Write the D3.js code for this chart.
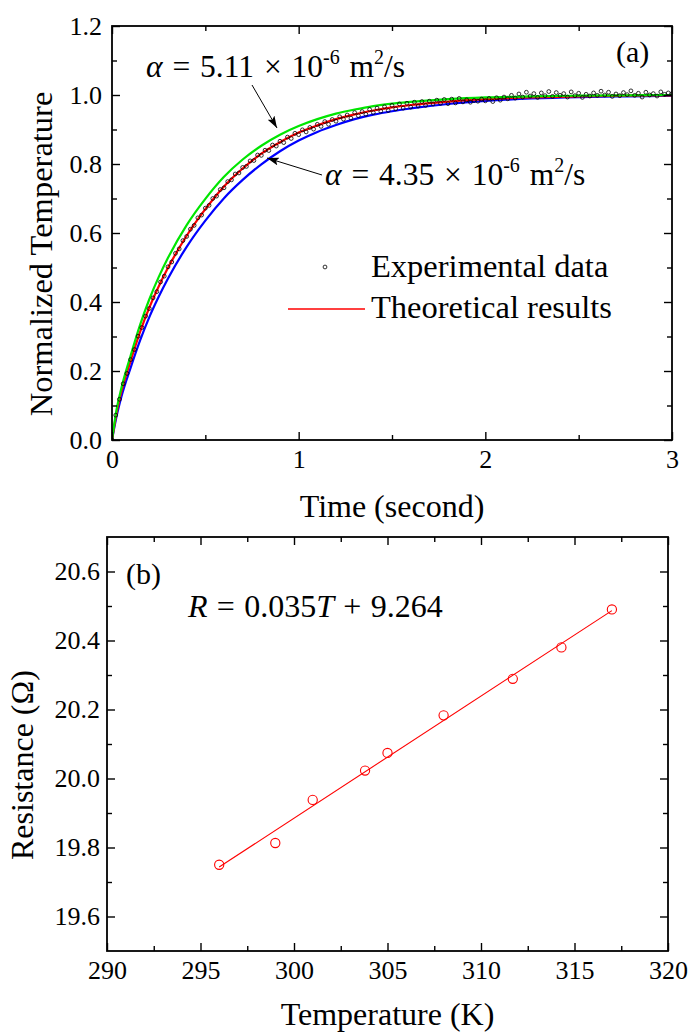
<!DOCTYPE html>
<html><head><meta charset="utf-8">
<script src="https://cdn.jsdelivr.net/npm/d3@7"></script>
<style>
html,body{margin:0;padding:0;background:#fff;}
svg{display:block;font-family:"Liberation Serif","Times New Roman",serif;}
</style></head><body>
<svg id="c" width="689" height="1034"></svg>
<script>
// ---------- Panel (a) data ----------
const expTime = [0.00,0.02,0.04,0.06,0.08,0.10,0.12,0.14,0.16,0.18,0.20,0.22,0.24,0.26,0.28,0.30,0.32,0.34,0.36,0.38,0.40,0.42,0.44,0.46,0.48,0.50,0.52,0.54,0.56,0.58,0.60,0.62,0.64,0.66,0.68,0.70,0.72,0.74,0.76,0.78,0.80,0.82,0.84,0.86,0.88,0.90,0.92,0.94,0.96,0.98,1.00,1.02,1.04,1.06,1.08,1.10,1.12,1.14,1.16,1.18,1.20,1.22,1.24,1.26,1.28,1.30,1.32,1.34,1.36,1.38,1.40,1.42,1.44,1.46,1.48,1.50,1.52,1.54,1.56,1.58,1.60,1.62,1.64,1.66,1.68,1.70,1.72,1.74,1.76,1.78,1.80,1.82,1.84,1.86,1.88,1.90,1.92,1.94,1.96,1.98,2.00,2.02,2.04,2.06,2.08,2.10,2.12,2.14,2.16,2.18,2.20,2.22,2.24,2.26,2.28,2.30,2.32,2.34,2.36,2.38,2.40,2.42,2.44,2.46,2.48,2.50,2.52,2.54,2.56,2.58,2.60,2.62,2.64,2.66,2.68,2.70,2.72,2.74,2.76,2.78,2.80,2.82,2.84,2.86,2.88,2.90,2.92,2.94,2.96,2.98,3.00];
const expTemp = [0.000,0.072,0.118,0.163,0.193,0.233,0.262,0.301,0.326,0.359,0.381,0.412,0.430,0.458,0.475,0.502,0.516,0.541,0.554,0.578,0.590,0.611,0.622,0.644,0.652,0.672,0.680,0.700,0.707,0.726,0.731,0.749,0.754,0.771,0.774,0.790,0.793,0.809,0.810,0.826,0.825,0.840,0.839,0.855,0.852,0.866,0.862,0.878,0.874,0.889,0.885,0.899,0.893,0.906,0.901,0.915,0.909,0.923,0.915,0.929,0.924,0.937,0.930,0.942,0.933,0.949,0.940,0.952,0.944,0.958,0.949,0.962,0.953,0.966,0.955,0.970,0.960,0.974,0.962,0.976,0.965,0.979,0.968,0.981,0.970,0.982,0.974,0.985,0.976,0.987,0.975,0.988,0.977,0.990,0.980,0.986,0.979,0.984,0.982,0.988,0.983,0.990,0.981,0.992,0.985,0.994,0.989,0.999,0.991,1.003,0.994,1.008,0.997,1.004,0.993,1.006,0.998,1.010,0.996,1.007,0.999,1.004,0.994,1.009,0.998,1.005,0.993,1.002,0.997,1.006,0.999,1.011,1.000,1.008,0.996,1.003,0.998,1.007,1.001,1.012,0.999,1.005,0.994,1.008,1.000,1.004,0.997,1.009,1.002,1.006,1.004];

const curveTime = [0,0.025,0.05,0.1,0.15,0.2,0.25,0.3,0.4,0.5,0.6,0.7,0.8,0.9,1.0,1.1,1.2,1.3,1.4,1.5,1.6,1.8,2.0,2.25,2.5,2.75,3.0];
const fitRed   = [0,0.08,0.14,0.23,0.313,0.384,0.445,0.499,0.592,0.669,0.735,0.787,0.830,0.863,0.891,0.912,0.930,0.944,0.955,0.964,0.971,0.981,0.988,0.993,0.996,0.998,0.999];
const fitGreen = [0,0.09,0.15,0.245,0.333,0.408,0.472,0.528,0.623,0.699,0.763,0.813,0.853,0.885,0.910,0.930,0.946,0.958,0.968,0.975,0.980,0.988,0.993,0.996,0.998,0.999,1.0];
const fitBlue  = [0,0.07,0.125,0.21,0.288,0.356,0.415,0.468,0.560,0.636,0.701,0.754,0.799,0.837,0.868,0.893,0.913,0.930,0.943,0.953,0.961,0.974,0.983,0.990,0.994,0.996,0.998];

const xTicksA = [0,1,2,3];
const yTicksA = [0.0,0.2,0.4,0.6,0.8,1.0,1.2];
const alphaLabels = ["5.11","4.35"];
const legendLabels = ["Experimental data","Theoretical results"];

// ---------- Panel (b) data ----------
const tempK = [296.0,299.0,301.0,303.8,305.0,308.0,311.7,314.3,317.0];
const resistance = [19.750,19.813,19.938,20.023,20.074,20.183,20.289,20.380,20.490];
const xTicksB = [290,295,300,305,310,315,320];
const yTicksB = [19.6,19.8,20.0,20.2,20.4,20.6];
const yMinorB = [19.7,19.9,20.1,20.3,20.5];

// ---------- drawing ----------
const svg = d3.select("#c");
const defs = svg.append("defs");
defs.append("marker").attr("id","arr").attr("viewBox","0 0 12 8")
  .attr("refX",12).attr("refY",4).attr("markerWidth",12).attr("markerHeight",8)
  .attr("markerUnits","userSpaceOnUse").attr("orient","auto")
  .append("path").attr("d","M0,0 L12,4 L0,8 L2.5,4 Z").attr("fill","#000");

function styleAxis(g, fs){
  g.select(".domain").remove();
  g.selectAll(".tick line").attr("stroke","#000").attr("stroke-width",1.4);
  g.selectAll(".tick text").attr("fill","#000").attr("font-size",fs)
   .attr("font-family","'Liberation Serif', 'Times New Roman', serif");
}
function drawAxes(x, y, box, xMaj, xMin, yMaj, yMin, xFmt, yFmt, xPad, yPad){
  const fs = 26;
  const mk = (gen, tr, vals, size, fmt, pad) => {
    const a = gen.tickValues(vals).tickSize(size).tickPadding(pad||0).tickFormat(fmt||"");
    const g = svg.append("g").attr("transform",tr).call(a);
    styleAxis(g, fs);
    return g;
  };
  mk(d3.axisBottom(x), `translate(0,${box.b})`, xMaj, -8, xFmt, xPad);
  mk(d3.axisBottom(x), `translate(0,${box.b})`, xMin, -5);
  mk(d3.axisTop(x), `translate(0,${box.t})`, xMaj, -8);
  mk(d3.axisTop(x), `translate(0,${box.t})`, xMin, -5);
  mk(d3.axisLeft(y), `translate(${box.l},0)`, yMaj, -8, yFmt, yPad);
  mk(d3.axisLeft(y), `translate(${box.l},0)`, yMin, -5);
  mk(d3.axisRight(y), `translate(${box.r},0)`, yMaj, -8);
  mk(d3.axisRight(y), `translate(${box.r},0)`, yMin, -5);
  svg.append("rect").attr("x",box.l).attr("y",box.t)
    .attr("width",box.r-box.l).attr("height",box.b-box.t)
    .attr("fill","none").attr("stroke","#000").attr("stroke-width",1.8);
}
function minorOf(major, step){
  const out=[];
  for(let i=0;i<major.length-1;i++) out.push(+(major[i]+step).toFixed(4));
  return out;
}

// ===== Panel (a) =====
const A = {l:112, r:672, t:26, b:440};
const xA = d3.scaleLinear().domain([0,3]).range([A.l,A.r]);
const yA = d3.scaleLinear().domain([0,1.2]).range([A.b,A.t]);

const lineA = d3.line().x(d=>xA(d[0])).y(d=>yA(d[1])).curve(d3.curveMonotoneX);
defs.append("clipPath").attr("id","clipA").append("rect")
  .attr("x",A.l).attr("y",A.t).attr("width",A.r-A.l).attr("height",A.b-A.t);
const gA = svg.append("g").attr("clip-path","url(#clipA)");
[[fitBlue,"#0000ff"],[fitRed,"#ff0000"],[fitGreen,"#00e600"]].forEach(([vals,col])=>{
  gA.append("path").datum(curveTime.map((t,i)=>[t,vals[i]]))
    .attr("d",lineA).attr("fill","none").attr("stroke",col).attr("stroke-width",2.2);
});
gA.selectAll("circle.exp").data(expTime.map((t,i)=>[t,expTemp[i]])).enter()
  .append("circle").attr("class","exp")
  .attr("cx",d=>xA(d[0])).attr("cy",d=>yA(d[1])).attr("r",1.9)
  .attr("fill","none").attr("stroke","#000").attr("stroke-width",0.8);

drawAxes(xA, yA, A, xTicksA, minorOf(xTicksA,0.5), yTicksA, minorOf(yTicksA,0.1),
  d3.format("d"), d3.format(".1f"), 9.5, 10);

svg.append("text").attr("x",(A.l+A.r)/2).attr("y",517).attr("text-anchor","middle")
  .attr("font-size",32).text("Time (second)");
svg.append("text").attr("transform",`translate(52,${(A.t+A.b)/2+21}) rotate(-90)`)
  .attr("text-anchor","middle").attr("font-size",32.5).text("Normalized Temperature");

svg.append("text").attr("x",616).attr("y",62).attr("font-size",30).text("(a)");

function alphaText(x, y, val){
  const t = svg.append("text").attr("x",x).attr("y",y).attr("font-size",31.5)
    .attr("word-spacing",2);
  t.append("tspan").attr("font-style","italic").text("α");
  t.append("tspan").text(" = " + val + " × 10");
  t.append("tspan").attr("dy",-13).attr("font-size",20).text("-6");
  t.append("tspan").attr("dy",13).text(" m");
  t.append("tspan").attr("dy",-13).attr("font-size",20).text("2");
  t.append("tspan").attr("dy",13).text("/s");
}
alphaText(146, 77, alphaLabels[0]);
alphaText(325, 185, alphaLabels[1]);
svg.append("line").attr("x1",252).attr("y1",85).attr("x2",277).attr("y2",128)
  .attr("stroke","#000").attr("stroke-width",1).attr("marker-end","url(#arr)");
svg.append("line").attr("x1",322).attr("y1",175).attr("x2",267).attr("y2",158)
  .attr("stroke","#000").attr("stroke-width",1).attr("marker-end","url(#arr)");

svg.append("circle").attr("cx",325).attr("cy",267).attr("r",1.9)
  .attr("fill","none").attr("stroke","#000").attr("stroke-width",0.8);
svg.append("text").attr("x",371).attr("y",277).attr("font-size",32.5).text(legendLabels[0]);
svg.append("line").attr("x1",288).attr("x2",365).attr("y1",309).attr("y2",309)
  .attr("stroke","#ff0000").attr("stroke-width",1.3);
svg.append("text").attr("x",371).attr("y",318).attr("font-size",32.5).text(legendLabels[1]);

// ===== Panel (b) =====
const B = {l:107, r:668, t:537, b:951};
const xB = d3.scaleLinear().domain([290,320]).range([B.l,B.r]);
const yB = d3.scaleLinear().domain([19.5,20.7]).range([B.b,B.t]);

const mx = d3.mean(tempK), my = d3.mean(resistance);
const slope = d3.sum(tempK.map((t,i)=>(t-mx)*(resistance[i]-my))) / d3.sum(tempK.map(t=>(t-mx)*(t-mx)));
const icpt = my - slope*mx;
const tMin = d3.min(tempK), tMax = d3.max(tempK);
svg.append("line").attr("x1",xB(tMin)).attr("y1",yB(icpt+slope*tMin))
  .attr("x2",xB(tMax)).attr("y2",yB(icpt+slope*tMax))
  .attr("stroke","#ff0000").attr("stroke-width",1.1);
svg.selectAll("circle.rb").data(tempK.map((t,i)=>[t,resistance[i]])).enter()
  .append("circle").attr("class","rb")
  .attr("cx",d=>xB(d[0])).attr("cy",d=>yB(d[1])).attr("r",4.6)
  .attr("fill","none").attr("stroke","#ff0000").attr("stroke-width",1.1);

drawAxes(xB, yB, B, xTicksB, minorOf(xTicksB,2.5), yTicksB, yMinorB,
  d3.format("d"), d3.format(".1f"), 9.5, 7);

svg.append("text").attr("x",(B.l+B.r)/2).attr("y",1025).attr("text-anchor","middle")
  .attr("font-size",32).text("Temperature (K)");
svg.append("text").attr("transform",`translate(33,765) rotate(-90)`)
  .attr("text-anchor","middle").attr("font-size",32).text("Resistance (Ω)");

svg.append("text").attr("x",126).attr("y",584).attr("font-size",30).text("(b)");
const eq = svg.append("text").attr("x",188).attr("y",617).attr("font-size",32)
  .attr("word-spacing",1.3);
eq.append("tspan").attr("font-style","italic").text("R");
eq.append("tspan").text(" = 0.035");
eq.append("tspan").attr("font-style","italic").text("T");
eq.append("tspan").text(" + 9.264");
</script></body></html>
